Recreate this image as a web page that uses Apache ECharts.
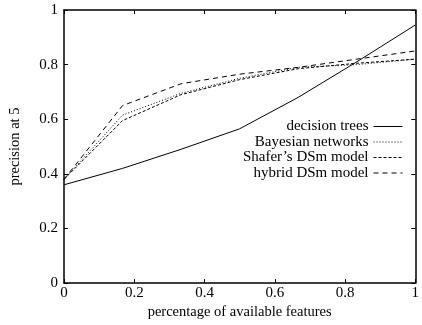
<!DOCTYPE html>
<html><head><meta charset="utf-8">
<script src="https://cdn.jsdelivr.net/npm/echarts@6/dist/echarts.min.js"></script>
<style>html,body{margin:0;padding:0;background:#fff}#c{width:422px;height:325px}</style>
</head><body><div id="c"></div>
<script>
const xValues = [0, 1/6, 2/6, 3/6, 4/6, 5/6, 1];
const decisionTrees = [0.36, 0.42, 0.49, 0.565, 0.68, 0.81, 0.945];
const bayesian = [0.38, 0.615, 0.695, 0.75, 0.79, 0.80, 0.82];
const shafer = [0.38, 0.595, 0.69, 0.745, 0.785, 0.805, 0.82];
const hybrid = [0.38, 0.65, 0.73, 0.765, 0.79, 0.82, 0.85];
const seriesNames = ['decision trees', 'Bayesian networks', 'Shafer\u2019s DSm model', 'hybrid DSm model'];
const xTicks = [0, 0.2, 0.4, 0.6, 0.8, 1];
const yTicks = [0, 0.2, 0.4, 0.6, 0.8, 1];

const font = 'Liberation Serif';
const pairs = arr => xValues.map((x, i) => [x, arr[i]]);
const dashes = ['solid', [1, 2], [3, 2], [5, 4]];
const datas = [decisionTrees, bayesian, shafer, hybrid];

const chart = echarts.init(document.getElementById('c'));
const axisCommon = () => ({
  type: 'value', min: 0, max: 1, interval: 0.2,
  axisLine: { show: true, onZero: false, lineStyle: { color: '#000', width: 1.5 } },
  axisTick: { show: true, inside: true, length: 4, lineStyle: { color: '#000' } },
  splitLine: { show: false }
});
chart.setOption({
  animation: false,
  backgroundColor: '#fff',
  textStyle: { fontFamily: font },
  grid: { left: 64, right: 6, top: 10, bottom: 41, containLabel: false },
  xAxis: [
    Object.assign(axisCommon(), {
      position: 'bottom',
      name: 'percentage of available features', nameLocation: 'middle', nameGap: 14,
      nameTextStyle: { fontFamily: font, fontSize: 14.5, color: '#000' },
      axisLabel: { fontFamily: font, fontSize: 15, color: '#000', margin: 2,
        formatter: v => xTicks.includes(+v.toFixed(1)) ? String(+v.toFixed(1)) : '' }
    }),
    Object.assign(axisCommon(), { position: 'top', axisLabel: { show: false } })
  ],
  yAxis: [
    Object.assign(axisCommon(), {
      position: 'left',
      name: 'precision at 5', nameLocation: 'middle', nameGap: 41,
      nameTextStyle: { fontFamily: font, fontSize: 14.5, color: '#000' },
      axisLabel: { fontFamily: font, fontSize: 15, color: '#000', margin: 6,
        formatter: v => yTicks.includes(+v.toFixed(1)) ? String(+v.toFixed(1)) : '' }
    }),
    Object.assign(axisCommon(), { position: 'right', axisLabel: { show: false } })
  ],
  legend: {
    right: 14, top: 114, orient: 'vertical', align: 'right',
    itemWidth: 29, itemHeight: 14, itemGap: 0.5,
    itemStyle: { opacity: 0 },
    lineStyle: { width: 1 },
    textStyle: { fontFamily: font, fontSize: 15, color: '#000' },
    data: seriesNames
  },
  series: seriesNames.map((n, i) => ({
    name: n, type: 'line', data: pairs(datas[i]), symbol: 'none',
    lineStyle: { color: '#000', width: 1, type: dashes[i] },
    itemStyle: { color: '#000' }
  }))
});
</script></body></html>
